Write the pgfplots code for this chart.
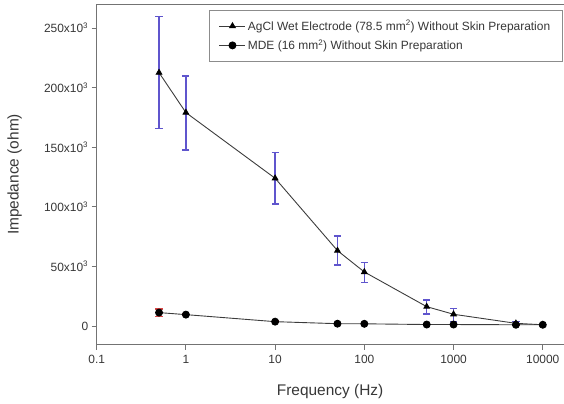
\documentclass[border=0pt]{standalone}
\usepackage{pgfplots}
\pgfplotsset{compat=1.18}
\usepackage{pgfplotstable}
\usepackage{fontspec}
\setmainfont{Liberation Sans}
\definecolor{ebblue}{RGB}{95,85,205}
\definecolor{ebred}{RGB}{215,70,70}
\definecolor{txt}{RGB}{55,55,55}
\definecolor{ln}{RGB}{60,60,60}

\pgfplotstableread{
x      y       ep     em
0.5    212500  47000  46700
1      179000  30700  31400
10     123900  21500  21600
50     63200   12300  12000
100    45300   7800   8600
500    16200   5600   6100
1000   9800    4700   6200
5000   2200    1500   1500
10000  1000    500    500
}\agcl

\pgfplotstableread{
x      y       ep     em
0.5    11200   3000   3000
1      9500    1000   1000
10     3600    500    500
50     1900    300    300
100    1800    300    300
500    1200    200    200
1000   1200    200    200
5000   1000    200    200
10000  1000    200    200
}\mde

\begin{document}
\begin{tikzpicture}
\begin{axis}[
  scale only axis, width=467bp, height=341bp,
  xmode=log, xmin=0.1, xmax=17100, ymin=-15900, ymax=270100,
  scaled y ticks=false,
  axis x line=box, axis y line=left,
  axis line style={-, draw=black!55, line width=0.9pt},
  xtick pos=bottom, ytick pos=left,
  tick align=outside, major tick length=5bp,
  tick style={draw=black!55, line width=0.8pt},
  xminorticks=false,
  xtick={0.1,1,10,100,1000,10000},
  xticklabels={0.1,1,10,100,1000,10000},
  ytick={0,50000,100000,150000,200000,250000},
  yticklabels={0,50x10\textsuperscript{3},100x10\textsuperscript{3},150x10\textsuperscript{3},200x10\textsuperscript{3},250x10\textsuperscript{3}},
  ticklabel style={font=\fontsize{12}{14}\selectfont, text=txt},
  xticklabel style={yshift=-2bp},
  xlabel={Frequency (Hz)}, ylabel={Impedance (ohm)},
  label style={font=\fontsize{15.5}{18}\selectfont, text=txt},
  xlabel style={at={(axis description cs:0.5,-0.138)}, anchor=center},
  ylabel style={at={(axis description cs:-0.1756,0.5)}, anchor=center},
  legend style={at={(rel axis cs:1,1)}, xshift=-1bp, yshift=-6bp, anchor=north east,
    draw=black!45, line width=0.7pt, font=\fontsize{12}{14}\selectfont, text=txt,
    inner xsep=10bp, inner ysep=8bp, row sep=4bp},
  legend cell align=left,
  legend image code/.code={\draw[#1, mark repeat=2, mark phase=2] plot coordinates {(0bp,0bp) (13bp,0bp) (26bp,0bp)};},
  clip=false,
]
\addplot[draw=none, color=ebblue, mark=none, forget plot,
  error bars/.cd, y dir=both, y explicit,
  error bar style={solid, draw=ebblue, line width=1.5pt},
  error mark options={rotate=90, mark size=3.6bp, draw=ebblue, line width=1.2pt}]
  table[x=x, y=y, y error plus=ep, y error minus=em] {\agcl};
\addplot[draw=none, color=ebred, mark=none, forget plot,
  error bars/.cd, y dir=both, y explicit,
  error bar style={solid, draw=ebred, line width=1.5pt},
  error mark options={rotate=90, mark size=3.6bp, draw=ebred, line width=1.2pt}]
  table[x=x, y=y, y error plus=ep, y error minus=em] {\mde};
\addplot[color=ln, line width=0.9pt, mark=triangle*, mark size=3.2bp,
  mark options={fill=black, draw=black}]
  table[x=x, y=y] {\agcl};
\addlegendentry{AgCl Wet Electrode (78.5 mm\textsuperscript{2}) Without Skin Preparation}
\addplot[color=ln, line width=0.9pt, mark=*, mark size=3.5bp,
  mark options={fill=black, draw=black}]
  table[x=x, y=y] {\mde};
\addlegendentry{MDE (16 mm\textsuperscript{2}) Without Skin Preparation}
\end{axis}
\path (current axis.south west) ++(-96.7bp,-59bp) coordinate (bbA);
\path (current axis.north east) ++(0bp,4bp) coordinate (bbB);
\path (bbA) rectangle (bbB);
\end{tikzpicture}
\end{document}
